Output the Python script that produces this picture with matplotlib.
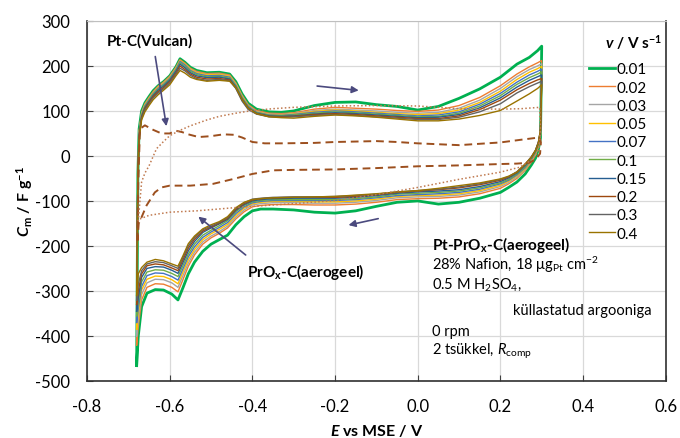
import matplotlib
matplotlib.use('Agg')
import matplotlib.pyplot as plt

plt.rcParams['font.family'] = ['Lato', 'DejaVu Sans']
plt.rcParams['mathtext.fontset'] = 'custom'
plt.rcParams['mathtext.rm'] = 'Lato'
plt.rcParams['mathtext.it'] = 'Lato:italic'
plt.rcParams['mathtext.bf'] = 'Lato:bold'
plt.rcParams['mathtext.bfit'] = 'Lato:bold:italic'

# scan rates (V/s) and colours
rates = ['0.01', '0.02', '0.03', '0.05', '0.07', '0.1', '0.15', '0.2', '0.3', '0.4']
colors = ['#00B050', '#ED7D31', '#A5A5A5', '#FFC000', '#4472C4',
          '#70AD47', '#255E91', '#9E480E', '#636363', '#997300']

# anodic branch potentials (V vs MSE)
E_up = [-0.680, -0.677, -0.674, -0.668, -0.660, -0.650, -0.640, -0.628, -0.615, -0.600,
        -0.585, -0.575, -0.563, -0.550, -0.535, -0.510, -0.480, -0.455, -0.440, -0.425,
        -0.410, -0.390, -0.360, -0.330, -0.300, -0.250, -0.200, -0.150, -0.100, -0.050,
        0.000, 0.050, 0.100, 0.150, 0.200, 0.240, 0.270, 0.290, 0.300]
# cathodic branch potentials
E_dn = [0.297, 0.292, 0.285, 0.275, 0.260, 0.240, 0.220, 0.200, 0.150, 0.100,
        0.050, 0.000, -0.050, -0.100, -0.150, -0.200, -0.250, -0.300, -0.350, -0.380,
        -0.400, -0.420, -0.440, -0.460, -0.480, -0.500, -0.520, -0.540, -0.555, -0.568,
        -0.580, -0.595, -0.615, -0.635, -0.655, -0.668, -0.676, -0.680]

# Pt-PrOx-C(aerogeel), Cm in F/g
C_up = {
    '0.01': [-466, -40, 60, 100, 118, 132, 145, 156, 165, 178, 198, 216, 208, 197, 190, 185, 186, 182, 165, 138,
             117, 104, 98, 97, 100, 112, 119, 120, 114, 110, 102, 110, 128, 149, 175, 204, 219, 234, 244],
    '0.02': [-420, -40, 55, 97, 116, 130, 143, 155, 164, 177, 197, 214, 206, 195, 188, 183, 184, 180, 162, 135,
             114, 101, 95, 94, 96, 104, 108, 106, 104, 101, 99, 102, 112, 130, 156, 182, 198, 207, 212],
    '0.03': [-400, -40, 52, 95, 114, 128, 141, 153, 162, 175, 195, 212, 204, 193, 186, 181, 182, 178, 160, 133,
             112, 99, 93, 92, 94, 101, 104, 102, 100, 97, 95, 97, 106, 124, 150, 176, 192, 200, 205],
    '0.05': [-385, -40, 50, 93, 113, 127, 140, 152, 161, 174, 194, 212, 204, 192, 185, 180, 181, 177, 159, 132,
             111, 98, 92, 91, 93, 99, 102, 100, 97, 94, 92, 94, 102, 119, 144, 170, 186, 194, 199],
    '0.07': [-370, -40, 48, 91, 111, 125, 138, 150, 159, 172, 192, 210, 202, 190, 183, 178, 179, 175, 157, 130,
             110, 97, 91, 90, 92, 97, 100, 98, 95, 92, 89, 91, 98, 115, 139, 164, 180, 188, 193],
    '0.1': [-355, -40, 46, 89, 109, 123, 136, 148, 157, 170, 190, 207, 199, 188, 181, 176, 177, 173, 155, 128,
            108, 96, 90, 89, 91, 95, 98, 96, 93, 90, 87, 88, 95, 111, 134, 159, 174, 182, 187],
    '0.15': [-345, -40, 44, 87, 107, 121, 134, 146, 155, 168, 188, 204, 196, 185, 178, 174, 175, 171, 153, 126,
             107, 95, 89, 88, 89, 93, 96, 94, 91, 88, 85, 86, 92, 107, 129, 153, 168, 176, 180],
    '0.2': [-330, -40, 42, 85, 105, 119, 132, 143, 152, 165, 184, 200, 192, 182, 175, 171, 172, 169, 151, 124,
            105, 94, 88, 87, 88, 92, 94, 92, 89, 86, 83, 83, 89, 103, 124, 147, 161, 169, 172],
    '0.3': [-320, -40, 40, 83, 102, 116, 129, 140, 149, 162, 181, 195, 189, 179, 172, 168, 170, 167, 150, 122,
            103, 93, 87, 86, 87, 90, 92, 90, 87, 84, 81, 81, 86, 98, 116, 140, 154, 162, 166],
    '0.4': [-310, -40, 38, 80, 98, 112, 125, 136, 146, 158, 178, 190, 184, 175, 170, 166, 168, 166, 152, 126,
            106, 94, 87, 85, 84, 88, 91, 89, 86, 82, 78, 78, 82, 90, 101, 122, 138, 150, 158],
}
C_dn = {
    '0.01': [40, 15, -5, -20, -40, -58, -70, -81, -94, -103, -107, -100, -103, -112, -122, -127, -125, -120, -118, -118,
             -122, -135, -153, -176, -186, -196, -212, -236, -262, -293, -320, -307, -298, -297, -305, -335, -400, -466],
    '0.02': [45, 20, 2, -14, -32, -50, -62, -72, -84, -91, -94, -95, -97, -103, -107, -109, -109, -108, -108, -110,
             -113, -124, -140, -160, -172, -182, -196, -220, -245, -275, -302, -292, -285, -284, -292, -320, -380, -420],
    '0.03': [47, 22, 4, -12, -30, -47, -59, -68, -80, -87, -90, -91, -93, -99, -103, -105, -105, -104, -104, -106,
             -109, -120, -136, -156, -168, -178, -191, -214, -238, -266, -292, -282, -275, -274, -282, -308, -365, -400],
    '0.05': [49, 24, 6, -10, -28, -44, -56, -65, -77, -84, -87, -88, -90, -96, -100, -102, -102, -101, -101, -103,
             -106, -116, -132, -152, -163, -173, -186, -208, -231, -258, -284, -275, -268, -267, -274, -298, -350, -385],
    '0.07': [51, 26, 8, -8, -26, -42, -54, -62, -74, -81, -84, -86, -88, -93, -97, -99, -99, -99, -99, -101,
             -104, -113, -128, -148, -159, -169, -181, -202, -224, -251, -276, -268, -261, -260, -266, -290, -338, -370],
    '0.1': [53, 28, 10, -6, -24, -40, -52, -60, -71, -78, -81, -83, -85, -91, -95, -97, -97, -97, -97, -99,
            -102, -110, -124, -144, -155, -165, -176, -196, -218, -244, -268, -261, -254, -253, -258, -280, -325, -355],
    '0.15': [55, 30, 12, -4, -21, -38, -49, -57, -68, -75, -78, -80, -83, -88, -92, -94, -94, -94, -95, -97,
             -100, -108, -121, -141, -151, -160, -170, -190, -211, -237, -261, -254, -247, -246, -250, -270, -315, -345],
    '0.2': [56, 31, 13, -2, -19, -36, -47, -54, -64, -71, -75, -78, -81, -86, -90, -92, -92, -92, -93, -95,
            -98, -106, -119, -139, -149, -158, -167, -185, -205, -231, -255, -249, -242, -240, -244, -262, -300, -330],
    '0.3': [57, 30, 12, -2, -18, -35, -46, -52, -62, -69, -74, -77, -80, -85, -88, -90, -91, -91, -92, -94,
            -96, -104, -117, -137, -148, -156, -164, -181, -200, -226, -250, -244, -237, -235, -240, -255, -285, -320],
    '0.4': [60, 28, 12, -3, -18, -36, -45, -51, -60, -66, -72, -77, -80, -84, -87, -90, -91, -92, -93, -95,
            -97, -103, -115, -135, -146, -153, -162, -178, -195, -222, -245, -240, -233, -230, -236, -248, -262, -310],
}

# Pt-C(Vulcan), dashed
vul_E_up = [-0.678, -0.676, -0.672, -0.660, -0.650, -0.640, -0.620, -0.600, -0.585, -0.570,
            -0.555, -0.530, -0.500, -0.470, -0.445, -0.425, -0.400, -0.370, -0.330, -0.250,
            -0.200, -0.100, -0.050, 0.000, 0.100, 0.200, 0.250, 0.285, 0.295]
vul_C_up = [-188, -60, 60, 68, 63, 58, 50, 50, 56, 53, 48, 42, 44, 48, 47, 41, 31, 28, 28, 29,
            31, 33, 31, 28, 24, 30, 36, 40, 41]
vul_E_dn = [0.298, 0.296, 0.285, 0.270, 0.240, 0.200, 0.100, 0.000, -0.100, -0.200, -0.300, -0.350,
            -0.400, -0.445, -0.495, -0.550, -0.600, -0.620, -0.636, -0.656, -0.668, -0.675, -0.678]
vul_C_dn = [30, 5, -8, -15, -17, -18, -21, -23, -27, -30, -31, -32,
            -40, -51, -62, -66, -66, -70, -81, -110, -136, -150, -188]

# PrOx-C(aerogeel), dotted
aer_E_up = [-0.676, -0.672, -0.668, -0.660, -0.650, -0.632, -0.615, -0.600, -0.575, -0.550, -0.510, -0.480,
            -0.440, -0.400, -0.350, -0.300, -0.200, -0.100, 0.000, 0.100, 0.200, 0.250, 0.295]
aer_C_up = [-145, -100, -58, -38, -22, 16, 32, 45, 57, 67, 80, 88, 95, 101, 105, 108, 111, 112, 111, 105, 104, 105, 108]
aer_E_dn = [0.297, 0.293, 0.285, 0.270, 0.247, 0.200, 0.150, 0.100, 0.000, -0.100, -0.200, -0.300, -0.350,
            -0.430, -0.535, -0.600, -0.650, -0.672, -0.676]
aer_C_dn = [60, 15, 0, -12, -25, -36, -44, -52, -70, -86, -99, -106, -109, -114, -122, -125, -132, -140, -145]

fig = plt.figure(figsize=(6.8, 4.39), dpi=100)
ax = fig.add_axes([0.128, 0.130, 0.851, 0.820])

for r, c in zip(rates, colors):
    lw = 2.0 if r == '0.01' else 1.0
    ax.plot(E_up + E_dn, C_up[r] + C_dn[r], color=c, lw=lw, label=r)

ax.plot(vul_E_up + vul_E_dn, vul_C_up + vul_C_dn, color='#9C4F1E', lw=1.4,
        linestyle=(0, (4, 2.5)))
ax.plot(aer_E_up + aer_E_dn, aer_C_up + aer_C_dn, color='#C07A50', lw=1.1,
        linestyle=(0, (1, 1.5)))

ax.set_xlim(-0.8, 0.6)
ax.set_ylim(-500, 300)
ax.set_xticks([-0.8, -0.6, -0.4, -0.2, 0.0, 0.2, 0.4, 0.6])
ax.set_xticklabels(['-0.8', '-0.6', '-0.4', '-0.2', '0.0', '0.2', '0.4', '0.6'])
ax.set_yticks(range(-500, 301, 100))
ax.set_yticklabels([str(v) for v in range(-500, 301, 100)])
ax.grid(True, color='#D9D9D9', lw=0.9)
ax.set_axisbelow(True)
ax.tick_params(direction='in', length=4, labelsize=12, colors='#404040', labelcolor='#000000')
ax.tick_params(axis='y', pad=12)
ax.tick_params(axis='x', pad=12)
for s in ['left', 'bottom', 'right']:
    ax.spines[s].set_color('#303030')
    ax.spines[s].set_linewidth(1.2)
ax.spines['top'].set_color('#BFBFBF')

ax.set_xlabel(r'$\mathbfit{E}$ vs MSE / V', fontsize=11.5, fontweight='bold', labelpad=6)
ax.set_ylabel(r'$\mathbfit{C}_{\mathbf{m}}$ / F g$^{\mathbf{-1}}$', fontsize=11.5, fontweight='bold', labelpad=0)

arrow_kw = dict(arrowstyle='-|>', color='#4B4A7E', lw=1.2, mutation_scale=10)
ax.annotate('', xy=(-0.607, 60), xytext=(-0.636, 227), arrowprops=arrow_kw)
ax.annotate('', xy=(-0.536, -131), xytext=(-0.411, -224), arrowprops=arrow_kw)
ax.annotate('', xy=(-0.136, 145), xytext=(-0.250, 156), arrowprops=arrow_kw)
ax.annotate('', xy=(-0.174, -155), xytext=(-0.089, -138), arrowprops=arrow_kw)

ax.text(-0.648, 256, 'Pt-C(Vulcan)', fontsize=11, fontweight='bold', ha='center', va='center')
ax.text(-0.414, -256, r'PrO$_{\mathbf{x}}$-C(aerogeel)', fontsize=11, fontweight='bold', ha='left', va='center')

tx = 0.034
ax.text(tx, -196, r'Pt-PrO$_{\mathbf{x}}$-C(aerogeel)', fontsize=11, fontweight='bold', va='center')
ax.text(tx, -240, r'28% Nafion, 18 μg$_{\mathrm{Pt}}$ cm$^{-2}$', fontsize=10.5, va='center')
ax.text(tx, -284, r'0.5 M H$_2$SO$_4$,', fontsize=10.5, va='center')
ax.text(0.231, -342, 'küllastatud argooniga', fontsize=10.5, va='center')
ax.text(tx, -389, '0 rpm', fontsize=10.5, va='center')
ax.text(tx, -433, r'2 tsükkel, $R_{\mathrm{comp}}$', fontsize=10.5, va='center')

# legend title drawn separately to match the gap above the entries
ax.text(0.523, 255, r'$\mathbfit{v}$ / V s$^{\mathbf{-1}}$', fontsize=11, fontweight='bold',
        ha='center', va='center')
ax.legend(loc='upper right', bbox_to_anchor=(0.985, 0.915), frameon=False,
          fontsize=11, handlelength=1.65, handletextpad=0.1,
          labelspacing=0.28, borderpad=0.2)

fig.savefig('out.png', dpi=100)
